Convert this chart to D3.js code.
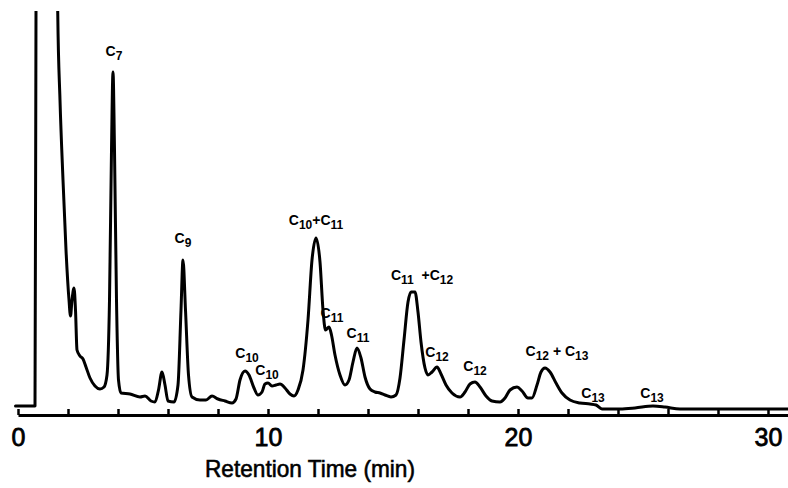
<!DOCTYPE html>
<html>
<head>
<meta charset="utf-8">
<script src="https://cdn.jsdelivr.net/npm/d3@7"></script>
<style>
  body { margin: 0; background: #fff; }
  svg { display: block; }
</style>
</head>
<body>
<svg class="chromatogram"></svg>
<script>
// retention time (min) and detector response
const times = [
  -0.1, 0.68, 0.72, 0.73, 1.57, 1.59, 1.68, 1.8, 1.92, 2.04, 2.1, 2.16, 2.24, 2.3,
  2.36, 2.48, 2.6, 2.72, 2.88, 3.08, 3.28, 3.44, 3.56, 3.66, 3.74, 3.8, 3.86, 3.94,
  4.02, 4.12, 4.48, 4.88, 5.08, 5.32, 5.48, 5.62, 5.76, 5.88, 6.0, 6.24, 6.4, 6.52,
  6.6, 6.7, 6.82, 6.96, 7.28, 7.52, 7.76, 8.0, 8.28, 8.56, 8.72, 8.88, 9.08, 9.24,
  9.44, 9.6, 9.76, 9.88, 10.0, 10.16, 10.32, 10.48, 10.68, 10.88, 11.04, 11.2, 11.4,
  11.6, 11.76, 11.92, 12.08, 12.2, 12.3, 12.44, 12.54, 12.68, 12.88, 13.08, 13.24,
  13.4, 13.56, 13.72, 13.88, 14.08, 14.28, 14.48, 14.68, 14.92, 15.12, 15.28, 15.44,
  15.6, 15.72, 15.88, 16.0, 16.12, 16.28, 16.4, 16.56, 16.76, 16.92, 17.12, 17.36,
  17.68, 17.88, 18.08, 18.28, 18.48, 18.72, 18.96, 19.28, 19.48, 19.68, 19.96, 20.16,
  20.4, 20.56, 20.76, 20.92, 21.08, 21.28, 21.52, 21.76, 22.08, 22.48, 22.88, 23.12,
  23.36, 24.08, 24.68, 25.4, 25.88, 26.48, 28.08, 30.8
];
const response = [
  2.25, 2.25, 101, 112, 112, 100.5, 78.75, 58.75, 41.25, 28.75, 24.75, 28.75, 31.75, 26.25,
  16.25, 14.75, 14, 12, 9.25, 7.25, 6.5, 7, 10, 28.75, 66.25, 85.75, 66.25, 28.75,
  8.75, 5.5, 5.25, 4.5, 4.75, 3.5, 3.25, 6.25, 10.75, 7.5, 3.5, 3.25, 7.5, 26.25,
  38.75, 26.25, 10, 4.5, 3.75, 3.75, 4.75, 4, 3.5, 3, 4, 8.75, 11, 10,
  6.75, 5, 5.75, 7.75, 8, 7.25, 7.5, 7.75, 6.75, 5.25, 4.75, 6.25, 11.25,
  23.75, 38.75, 44.25, 38.25, 26.25, 21.25, 22, 20, 15, 10, 7.5, 8.75,
  13.25, 16.75, 14.25, 9.5, 6.5, 5.75, 5.5, 5, 4.5, 5, 9.25, 18.75,
  28.25, 30.75, 30.75, 25.75, 18.25, 11.75, 10, 10.75, 12, 10.25, 7.5, 5.5,
  4.5, 5.75, 7.75, 8.25, 7, 4.75, 3.5, 3.25, 4.25, 6.25, 7, 6,
  4.25, 4.25, 7.5, 10.75, 11.75, 10.75, 8, 5.5, 3.75, 3, 2.75, 2.5,
  1.5, 1.5, 1.75, 2.25, 2, 1.5, 1.5, 1.5
];

// peak annotations: digits are drawn as subscripts
const peakLabels = [
  "C7", "C9", "C10", "C10", "C10+C11", "C11", "C11", "C11  +C12",
  "C12", "C12", "C12 + C13", "C13", "C13"
];
const labelTimes = [3.84, 6.6, 9.16, 9.96, 11.92, 12.56, 13.6, 16.16, 16.76, 18.28, 21.56, 23.0, 25.36];
const labelLevels = [90.5, 43.75, 15, 10.75, 48.25, 25, 20, 34.5, 15.25, 11.75, 15.5, 5, 5];

const xTicks = d3.range(0, 32, 2);
const xTickLabels = [0, 10, 20, 30];

const width = 788;
const height = 488;

const svg = d3
  .select(".chromatogram")
  .attr("width", width)
  .attr("height", height)
  .style("background", "#fff");

const xScale = d3.scaleLinear().domain([0, 30.8]).range([18, 788]);
const yScale = d3.scaleLinear().domain([0, 100]).range([415, 15]);

svg
  .append("clipPath")
  .attr("id", "plot-clip")
  .append("rect")
  .attr("x", 0)
  .attr("y", 11)
  .attr("width", width)
  .attr("height", height - 11);

const points = times.map((t, i) => [t, response[i]]);

const line = d3
  .line()
  .x((d) => xScale(d[0]))
  .y((d) => yScale(d[1]))
  .curve(d3.curveMonotoneX);

svg
  .append("path")
  .datum(points)
  .attr("clip-path", "url(#plot-clip)")
  .attr("fill", "none")
  .attr("stroke", "#000")
  .attr("stroke-width", 3)
  .attr("stroke-linejoin", "round")
  .attr("stroke-linecap", "round")
  .attr("d", line);

// time axis, small ticks pointing up
const xAxis = svg
  .append("g")
  .attr("transform", `translate(0,415)`)
  .call(
    d3
      .axisBottom(xScale)
      .tickValues(xTicks)
      .tickSizeInner(-6)
      .tickSizeOuter(0)
      .tickPadding(13)
      .tickFormat((d) => (xTickLabels.includes(d) ? d : ""))
  );

xAxis.select(".domain").attr("stroke", "#000").attr("stroke-width", 3);
xAxis.selectAll(".tick line").attr("stroke", "#000").attr("stroke-width", 2.5);
xAxis
  .selectAll(".tick text")
  .attr("fill", "#000")
  .style("font-family", "'Liberation Sans', Arial, sans-serif")
  .style("font-size", "25px")
  .attr("stroke", "#000")
  .attr("stroke-width", 0.8);

svg
  .append("text")
  .attr("x", 310)
  .attr("y", 477)
  .attr("text-anchor", "middle")
  .attr("textLength", 210)
  .attr("lengthAdjust", "spacingAndGlyphs")
  .style("font-family", "'Liberation Sans', Arial, sans-serif")
  .style("font-size", "24px")
  .attr("stroke", "#000")
  .attr("stroke-width", 0.6)
  .text("Retention Time (min)");

const labels = svg
  .append("g")
  .selectAll("text")
  .data(peakLabels)
  .join("text")
  .attr("x", (d, i) => xScale(labelTimes[i]))
  .attr("y", (d, i) => yScale(labelLevels[i]) + 3)
  .attr("text-anchor", "middle")
  .style("font-family", "'Liberation Sans', Arial, sans-serif")
  .style("font-weight", "bold")
  .style("font-size", "14px");

labels.each(function (d) {
  const el = d3.select(this);
  d.split(/(\d+)/).filter((s) => s !== "").forEach((part) => {
    const sub = /^\d+$/.test(part);
    el.append("tspan")
      .attr("dy", sub ? 4 : -4)
      .style("font-size", sub ? "12px" : "14px")
      .attr("xml:space", "preserve")
      .text(part);
  });
  el.select("tspan").attr("dy", 0);
});
</script>
</body>
</html>
